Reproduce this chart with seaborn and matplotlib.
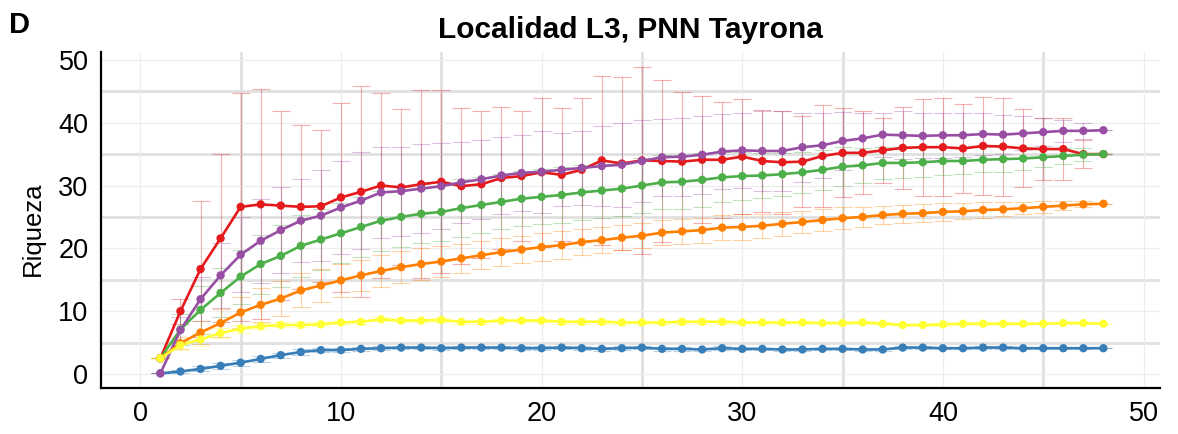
import numpy as np
import pandas as pd
import matplotlib
matplotlib.use("Agg")
import matplotlib.pyplot as plt
import seaborn as sns

# ===============================
# Data
# ===============================
muestras = list(range(1, 49))

grupos = ["G1", "G2", "G3", "G4", "G5", "G6"]
colores = ["#E41A1C", "#377EB8", "#4DAF4A", "#984EA3", "#FF7F00", "#FFFF33"]

riq_g1 = [2.5, 10.0, 16.7, 21.6, 26.6, 27.0, 26.8, 26.6, 26.7, 28.1, 29.0, 30.0,
          29.7, 30.2, 30.6, 29.9, 30.2, 31.2, 31.5, 32.1, 31.7, 32.5, 34.0, 33.5,
          34.0, 33.9, 33.8, 34.1, 34.1, 34.6, 33.9, 33.7, 33.8, 34.7, 35.2, 35.2,
          35.6, 36.0, 36.1, 36.1, 35.9, 36.3, 36.2, 35.9, 35.8, 35.8, 35.0, 35.0]
sd_g1 = [0.0, 2.0, 10.8, 13.4, 18.2, 18.3, 15.0, 13.0, 12.1, 15.0, 16.8, 14.8,
         12.4, 15.0, 14.6, 12.4, 11.7, 11.3, 10.4, 11.9, 10.6, 11.5, 13.4, 13.7,
         14.9, 12.9, 11.1, 10.1, 9.2, 9.2, 8.1, 8.2, 7.3, 8.1, 7.1, 6.6,
         5.2, 6.5, 7.7, 7.8, 7.1, 7.8, 7.8, 6.2, 4.9, 5.0, 2.2, 0.0]

riq_g2 = [0.1, 0.4, 0.8, 1.3, 1.8, 2.4, 3.0, 3.5, 3.8, 3.8, 4.0, 4.1,
          4.2, 4.2, 4.1, 4.2, 4.2, 4.2, 4.1, 4.1, 4.2, 4.1, 4.0, 4.1,
          4.2, 4.0, 4.0, 3.9, 4.1, 4.0, 4.0, 3.9, 3.9, 4.0, 4.0, 3.9,
          3.9, 4.2, 4.2, 4.1, 4.1, 4.2, 4.2, 4.1, 4.1, 4.1, 4.1, 4.1]
sd_g2 = [0.0, 0.3, 0.4, 0.5, 0.5, 0.5, 0.4, 0.4, 0.3, 0.3, 0.3, 0.3,
         0.3, 0.3, 0.3, 0.3, 0.3, 0.3, 0.3, 0.3, 0.3, 0.3, 0.3, 0.3,
         0.3, 0.3, 0.3, 0.3, 0.3, 0.2, 0.2, 0.2, 0.2, 0.2, 0.2, 0.2,
         0.2, 0.2, 0.2, 0.2, 0.2, 0.2, 0.2, 0.1, 0.1, 0.1, 0.1, 0.0]

riq_g3 = [2.5, 7.1, 10.2, 12.9, 15.5, 17.5, 18.8, 20.4, 21.4, 22.4, 23.4, 24.4,
          25.0, 25.5, 25.8, 26.4, 26.9, 27.4, 27.9, 28.2, 28.5, 28.9, 29.2, 29.5,
          30.0, 30.5, 30.6, 30.9, 31.3, 31.5, 31.6, 31.8, 32.1, 32.5, 33.0, 33.2,
          33.6, 33.6, 33.7, 33.9, 33.9, 34.1, 34.2, 34.3, 34.5, 34.7, 34.9, 35.0]
sd_g3 = [0.0, 2.5, 3.8, 3.9, 4.3, 4.7, 4.9, 4.9, 4.8, 4.8, 4.8, 4.8,
         4.8, 4.7, 4.7, 4.6, 4.4, 4.4, 4.4, 4.4, 4.4, 4.4, 4.3, 4.3,
         4.3, 4.3, 4.3, 4.3, 4.0, 3.8, 3.6, 3.4, 3.3, 3.2, 3.1, 2.8,
         2.5, 2.4, 2.4, 2.2, 2.1, 2.0, 2.0, 1.8, 1.5, 1.3, 1.0, 0.0]

riq_g4 = [0.1, 7.0, 11.9, 15.7, 19.0, 21.2, 22.9, 24.4, 25.2, 26.5, 27.6, 28.9,
          29.1, 29.5, 29.9, 30.5, 31.0, 31.6, 32.0, 32.2, 32.5, 32.8, 33.1, 33.3,
          33.9, 34.5, 34.6, 34.9, 35.4, 35.6, 35.5, 35.5, 36.1, 36.4, 37.1, 37.5,
          38.1, 38.0, 37.9, 38.0, 38.0, 38.2, 38.1, 38.3, 38.5, 38.7, 38.7, 38.8]
sd_g4 = [0.0, 2.0, 3.5, 5.2, 6.0, 6.7, 6.8, 6.6, 7.2, 7.4, 7.7, 7.2,
         7.1, 7.1, 6.8, 6.5, 6.3, 6.1, 6.1, 6.5, 5.8, 5.9, 6.3, 6.7,
         6.5, 6.1, 6.2, 6.2, 6.0, 6.0, 6.3, 6.4, 5.5, 5.2, 4.6, 4.1,
         3.5, 3.8, 3.6, 3.6, 3.5, 3.3, 3.1, 2.7, 2.2, 1.7, 1.3, 0.0]

riq_g5 = [2.5, 4.9, 6.6, 8.1, 9.8, 11.0, 12.0, 13.3, 14.1, 14.9, 15.7, 16.4,
          17.0, 17.5, 17.9, 18.4, 18.9, 19.4, 19.8, 20.2, 20.5, 21.0, 21.3, 21.7,
          22.0, 22.5, 22.7, 22.9, 23.3, 23.4, 23.6, 23.9, 24.2, 24.5, 24.8, 25.0,
          25.3, 25.5, 25.6, 25.8, 25.9, 26.1, 26.2, 26.4, 26.6, 26.8, 27.0, 27.1]
sd_g5 = [0.0, 1.0, 1.8, 2.2, 2.5, 2.7, 2.8, 2.7, 2.6, 2.6, 2.5, 2.5,
         2.5, 2.5, 2.4, 2.3, 2.2, 2.2, 2.2, 2.2, 2.2, 2.1, 2.1, 2.0,
         2.0, 2.0, 2.0, 2.0, 2.0, 2.0, 1.9, 1.9, 1.8, 1.8, 1.7, 1.6,
         1.4, 1.4, 1.4, 1.4, 1.3, 1.2, 1.1, 1.0, 0.9, 0.7, 0.5, 0.0]

riq_g6 = [2.5, 4.6, 5.5, 6.5, 7.2, 7.6, 7.8, 7.8, 7.9, 8.2, 8.3, 8.7,
          8.5, 8.5, 8.6, 8.3, 8.3, 8.5, 8.5, 8.5, 8.3, 8.3, 8.3, 8.2,
          8.2, 8.2, 8.3, 8.3, 8.3, 8.2, 8.2, 8.2, 8.2, 8.1, 8.1, 8.2,
          8.0, 7.8, 7.8, 7.9, 8.0, 8.0, 8.0, 8.0, 8.0, 8.1, 8.1, 8.0]
sd_g6 = [0.0, 0.8, 1.1, 0.8, 0.6, 0.5, 0.4, 0.4, 0.3, 0.3, 0.3, 0.3,
         0.3, 0.3, 0.3, 0.3, 0.3, 0.3, 0.3, 0.3, 0.3, 0.3, 0.3, 0.3,
         0.3, 0.3, 0.3, 0.3, 0.3, 0.3, 0.2, 0.2, 0.2, 0.2, 0.2, 0.2,
         0.2, 0.2, 0.2, 0.2, 0.2, 0.2, 0.2, 0.2, 0.1, 0.1, 0.1, 0.0]

medias = [riq_g1, riq_g2, riq_g3, riq_g4, riq_g5, riq_g6]
desvios = [sd_g1, sd_g2, sd_g3, sd_g4, sd_g5, sd_g6]

x_ticks = [0, 10, 20, 30, 40, 50]
y_ticks = [0, 10, 20, 30, 40, 50]

# long table for seaborn
df = pd.concat(
    [pd.DataFrame({"muestras": muestras, "riqueza": m, "sd": s, "grupo": g})
     for g, m, s in zip(grupos, medias, desvios)],
    ignore_index=True,
)

# ===============================
# Style
# ===============================
sns.set_style("white")
plt.rcParams["font.family"] = ["Liberation Sans", "DejaVu Sans"]
plt.rcParams["text.color"] = "black"
plt.rcParams["axes.labelcolor"] = "black"

fig = plt.figure(figsize=(11.78, 4.34), dpi=100)
ax = fig.add_axes([101 / 1178, 1 - 388.3 / 434, (1160 - 101) / 1178, (388.3 - 51.7) / 434])

# grid: thin lines at labelled ticks, thicker ones in between
for v in [5, 15, 25, 35, 45]:
    ax.axhline(v, color="#E0E0E0", lw=2.0, zorder=0)
    ax.axvline(v, color="#E0E0E0", lw=2.0, zorder=0)
for v in x_ticks:
    ax.axvline(v, color="#EDEDED", lw=0.9, zorder=0)
for v in y_ticks:
    ax.axhline(v, color="#EDEDED", lw=0.9, zorder=0)

# error bars (faint)
for g, c in zip(grupos, colores):
    d = df[df["grupo"] == g]
    ax.errorbar(d["muestras"], d["riqueza"], yerr=d["sd"], fmt="none",
                ecolor=c, alpha=0.35, elinewidth=0.8, capsize=6.5,
                capthick=0.8, zorder=1)

# lines then points
sns.lineplot(data=df, x="muestras", y="riqueza", hue="grupo",
             hue_order=grupos, palette=colores, linewidth=1.9,
             legend=False, ax=ax, zorder=2)
sns.scatterplot(data=df, x="muestras", y="riqueza", hue="grupo",
                hue_order=grupos, palette=colores, s=36, linewidth=0,
                legend=False, ax=ax, zorder=3)

ax.set_xlim(-1.96, 50.82)
ax.set_ylim(-2.28, 51.3)
ax.set_xticks(x_ticks)
ax.set_yticks(y_ticks)

for side in ["top", "right"]:
    ax.spines[side].set_visible(False)
for side in ["left", "bottom"]:
    ax.spines[side].set_color("black")
    ax.spines[side].set_linewidth(1.6)

ax.tick_params(axis="both", direction="out", length=5, width=1.4,
               color="black", labelsize=19.5, labelcolor="black", pad=4)

ax.set_xlabel("")
ax.set_ylabel("Riqueza", fontsize=18.5, color="black")
ax.yaxis.set_label_coords(-0.053, 0.475)
ax.set_title("Localidad L3, PNN Tayrona", fontsize=21.5, fontweight="bold",
             color="black", pad=10)

fig.text(0.008, 1 - 32.7 / 434, "D", fontsize=21, fontweight="bold",
         va="baseline", color="black")

fig.savefig("out.png", dpi=100)
